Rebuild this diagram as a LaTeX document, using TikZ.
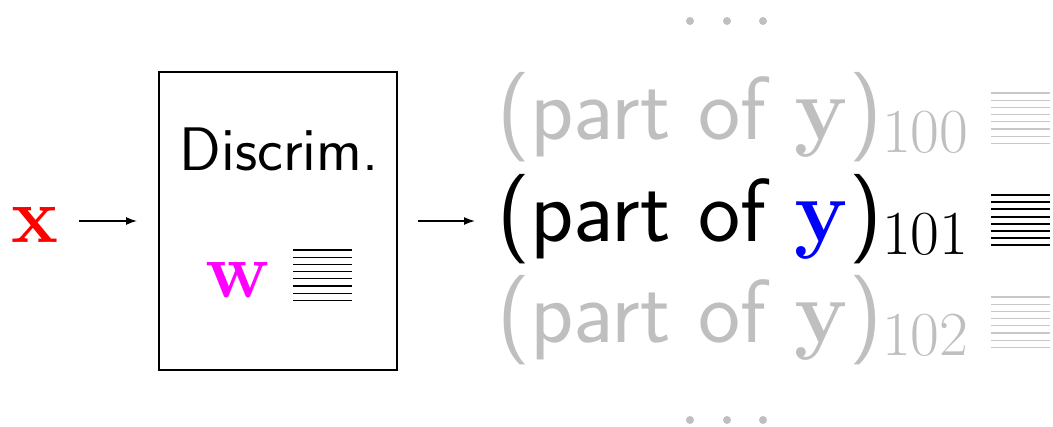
\documentclass[tikz,border=0pt]{standalone}
\usepackage{fix-cm}
\usepackage{xcolor}
\usetikzlibrary{arrows.meta}
\definecolor{fadeGray}{RGB}{191,191,191}
\definecolor{lineGray}{RGB}{200,200,200}
\definecolor{wMagenta}{RGB}{255,0,255}
\definecolor{yBlue}{RGB}{0,0,255}
\definecolor{xRed}{RGB}{255,0,0}
% eight horizontal rules: left x, top y, length, style
\newcommand{\WRows}[4]{\foreach \k in {0,...,7}{\draw[#4] (#1,{#2+\k*7.2}) -- +(#3,0);}}

\begin{document}
\begin{tikzpicture}[x=0.02cm,y=-0.02cm,
  big/.style={font=\fontsize{45}{54}\selectfont,inner sep=0pt},
  part/.style={font=\fontsize{51}{60}\selectfont,inner sep=0pt,anchor=base west},
  arr/.style={-{Latex[length=0.22cm,width=0.16cm]},line width=0.9pt}]
  \useasboundingbox (0,0) rectangle (1053,426);
  % input and discriminator
  \node[big,anchor=base,text=xRed] (x) at (35,242) {$\mathbf{x}$};
  \node[draw,line width=1.1pt,minimum width=4.76cm,minimum height=5.96cm] (box) at (278,221) {};
  \node[font=\fontsize{35}{42}\selectfont\sffamily,anchor=base,inner sep=0pt] (discrim) at (279,170) {Discrim.};
  \node[big,anchor=base,text=wMagenta] (w) at (238,297) {$\mathbf{w}$};
  \WRows{293}{250}{59}{line width=0.6pt}
  % outputs
  \node[part,text=fadeGray] (y100) at (497,139) {\sffamily(part of $\mathbf{y}$)$_{100}$};
  \node[part] (y101) at (497,241) {\sffamily(part of \textcolor{yBlue}{$\mathbf{y}$})$_{101}$};
  \node[part,text=fadeGray] (y102) at (497,342) {\sffamily(part of $\mathbf{y}$)$_{102}$};
  \WRows{991}{93}{59}{lineGray,line width=0.7pt}
  \WRows{991}{195}{59}{line width=1.2pt}
  \WRows{991}{297}{59}{lineGray,line width=0.7pt}
  \foreach \dx in {690,727,763}{
    \fill[fadeGray] (\dx,21) circle (4);
    \fill[fadeGray] (\dx,420) circle (4);
  }
  % connectors
  \draw[arr,shorten <=0.4cm,shorten >=0.42cm] (x.east |- box.west) -- (box.west);
  \draw[arr,shorten <=0.4cm,shorten >=0.44cm] (box.east) -- (box.east -| y101.west);
\end{tikzpicture}
\end{document}
